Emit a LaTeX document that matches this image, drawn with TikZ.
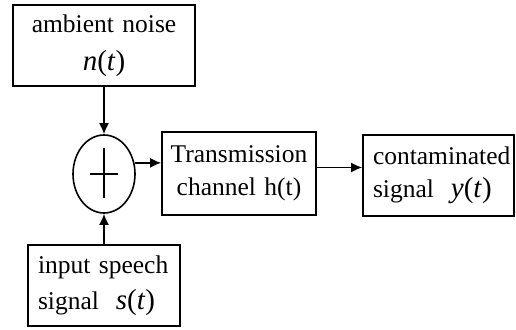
\documentclass[tikz,border=0pt]{standalone}
\usepackage{fontspec}
\setmainfont{Liberation Serif}
\usetikzlibrary{calc,shapes.geometric,arrows.meta}

\begin{document}
\begin{tikzpicture}[x=1pt, y=-1pt,
    block/.style={rectangle, draw, line width=1.6pt, minimum height=81pt, inner sep=0pt},
    line/.style={draw, line width=1.6pt, -{Latex[length=11pt,width=10pt]}},
    font=\fontsize{25.5}{33}\selectfont]
    \useasboundingbox (0,0) rectangle (516,329);
    % Place nodes
    \node [block, minimum width=182pt, text width=182pt, align=center] (noise) at (104,45.5)
        {ambient noise\\[5pt]{\fontsize{29}{33}\selectfont\textit{n}(\textit{t})}};
    \node [ellipse, draw, line width=1.6pt, minimum width=62pt, minimum height=78pt, inner sep=0pt] (sum) at (104,174) {};
    \node [block, minimum width=154pt, minimum height=83pt, text width=154pt, align=center] (channel) at (239,173.5)
        {Transmission\\channel h(t)};
    \node [block, minimum width=151pt, text width=131pt, align=left] (output) at (438.5,175.5)
        {contaminated\\signal\ \ {\fontsize{29}{33}\selectfont\textit{y}(\textit{t})}};
    \node [block, minimum width=152pt, text width=132pt, align=left] (speech) at (104,285.5)
        {input speech\\[3pt]signal\ \ {\fontsize{29}{33}\selectfont\textit{s}(\textit{t})}};
    % Plus sign
    \draw [line width=1.6pt] ([yshift=26pt]sum.center) -- ([yshift=-24pt]sum.center);
    \draw [line width=1.6pt] ([xshift=-14pt]sum.center) -- ([xshift=14pt]sum.center);
    % Connectors
    \path [line] (noise) -- (sum);
    \path [line] (speech) -- (sum);
    \path [line] (sum.20) -- (sum.20 -| channel.west);
    \path [line] ([yshift=6pt]channel.east) -- ([yshift=6pt]channel.east -| output.west);
\end{tikzpicture}
\end{document}
